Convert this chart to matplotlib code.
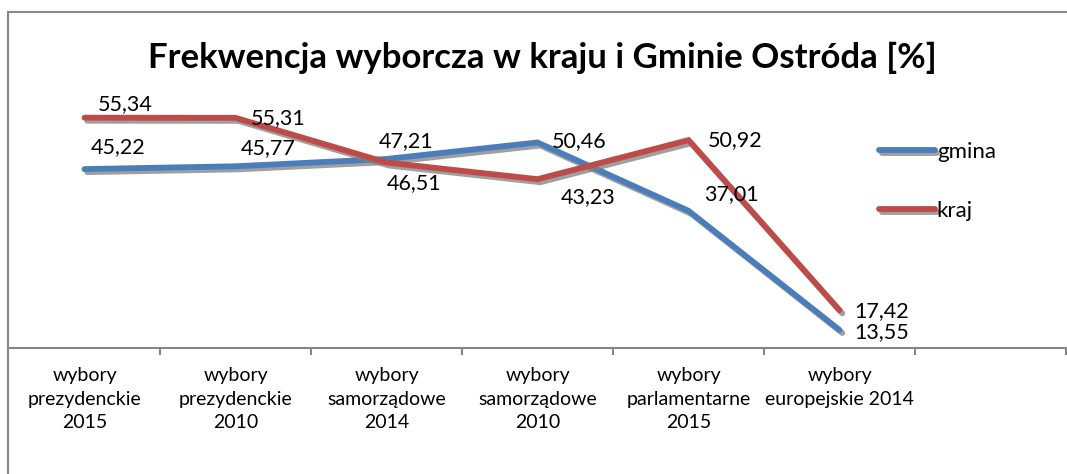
import matplotlib
matplotlib.use('Agg')
import matplotlib.pyplot as plt
import matplotlib.patheffects as pe
from matplotlib.patches import Rectangle

plt.rcParams['font.family'] = ['Lato', 'DejaVu Sans']

categories = ['wybory\nprezydenckie\n2015', 'wybory\nprezydenckie\n2010',
              'wybory\nsamorządowe\n2014', 'wybory\nsamorządowe\n2010',
              'wybory\nparlamentarne\n2015', 'wybory\neuropejskie 2014']
gmina = [45.22, 45.77, 47.21, 50.46, 37.01, 13.55]
kraj = [55.34, 55.31, 46.51, 43.23, 50.92, 17.42]

# label offsets in pixels (dx, dy) for each point
gmina_off = [(6, 22), (5, 18), (-8, 18), (14, 1), (16, 17), (15, -2)]
kraj_off = [(13, 14), (15, 0), (0, -21), (23, -18), (19, 0), (15, -1)]

def fmt(v):
    return f'{v:.2f}'.replace('.', ',')

fig = plt.figure(figsize=(10.67, 4.74), dpi=100)
ax = fig.add_axes([9 / 1067, 126 / 474, 1057 / 1067, 254 / 474])

x = list(range(len(categories)))
shadow = [pe.SimpleLineShadow(offset=(2, -2.2), shadow_color='#7f7f7f', alpha=0.75),
          pe.Normal()]
ax.plot(x, gmina, color='#4A7EBB', lw=4.2, label='gmina', path_effects=shadow,
        solid_joinstyle='miter', solid_capstyle='round')
ax.plot(x, kraj, color='#BE4B48', lw=4.2, label='kraj', path_effects=shadow,
        solid_joinstyle='miter', solid_capstyle='round')

for xi, v, (dx, dy) in zip(x, gmina, gmina_off):
    ax.annotate(fmt(v), (xi, v), xytext=(dx * 0.72, dy * 0.72), textcoords='offset points',
                ha='left', va='center', fontsize=15.5)
for xi, v, (dx, dy) in zip(x, kraj, kraj_off):
    ax.annotate(fmt(v), (xi, v), xytext=(dx * 0.72, dy * 0.72), textcoords='offset points',
                ha='left', va='center', fontsize=15.5)

ax.set_xlim(-0.5, 6.5)
ax.set_ylim(10, 60)
ax.set_yticks([])
ax.set_xticks(x)
ax.set_xticklabels(categories, fontsize=14, linespacing=1.45)
ax.set_xticks([i + 0.5 for i in range(7)], minor=True)
ax.tick_params(axis='x', which='major', length=0, pad=14)
ax.tick_params(axis='x', which='minor', length=5, width=1.5, color='#868686')
for s in ['top', 'right', 'left']:
    ax.spines[s].set_visible(False)
ax.spines['bottom'].set_color('#868686')
ax.spines['bottom'].set_linewidth(1.5)
ax.patch.set_alpha(0)

ax.legend(loc='upper left', bbox_to_anchor=(859 / 1067, 1 - 122 / 474),
          bbox_transform=fig.transFigure, frameon=False, fontsize=16,
          handlelength=2.5, handletextpad=0.1, labelspacing=1.75)

fig.text(0.508, 1 - 58 / 474, 'Frekwencja wyborcza w kraju i Gminie Ostróda [%]',
         ha='center', va='center', fontsize=25, fontweight='bold')

# chart border
fig.patches.append(Rectangle((8 / 1067, -0.2), 2, 1.2 - 12 / 474, transform=fig.transFigure,
                             fill=False, edgecolor='#888888', lw=1.5))

fig.savefig('out.png', dpi=100)
